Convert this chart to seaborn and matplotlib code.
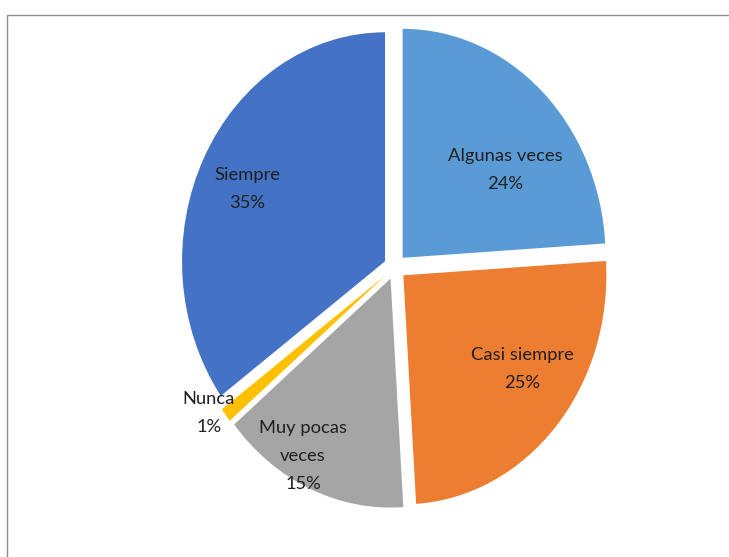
import matplotlib
matplotlib.use("Agg")
import matplotlib.pyplot as plt
from matplotlib.patches import Rectangle
import seaborn as sns

# Survey answers, in clockwise order starting at 12 o'clock
categories = ["Algunas veces", "Casi siempre", "Muy pocas\nveces", "Nunca", "Siempre"]
percentages = [24, 25, 15, 1, 35]
colors = ["#5B9BD5", "#ED7D31", "#A5A5A5", "#FFC000", "#4472C4"]

# Label anchor points relative to the pie centre (unit radius)
label_xy = [(0.542, 0.424), (0.626, -0.445), (-0.453, -0.825),
            (-0.916, -0.638), (-0.729, 0.341)]

sns.set_theme(style="white")
plt.rcParams["font.family"] = ["Lato", "DejaVu Sans"]

fig = plt.figure(figsize=(7.29, 5.57), dpi=100)
fig.patch.set_facecolor("white")

# Chart-area border (top and left edges visible)
fig.add_artist(Rectangle((7 / 729, -0.2), 1.2, 1.2 - 15 / 557,
                         transform=fig.transFigure, fill=False,
                         edgecolor="#8c8c8c", linewidth=1.0))

ax = fig.add_axes([151.4 / 729, 26.65 / 557, 487.2 / 729, 526.7 / 557])
ax.pie(percentages, colors=colors, startangle=90, counterclock=False,
       explode=[0.055] * len(percentages),
       wedgeprops=dict(linewidth=0))
ax.set_aspect("auto")
ax.set_xlim(-1.2, 1.2)
ax.set_ylim(-1.15, 1.15)
ax.axis("off")

for name, pct, (x, y) in zip(categories, percentages, label_xy):
    ax.text(x, y, f"{name}\n{pct}%", ha="center", va="center",
            fontsize=13.2, color="#1f1f1f", linespacing=1.93)

fig.savefig("out.png", dpi=100, facecolor="white")
